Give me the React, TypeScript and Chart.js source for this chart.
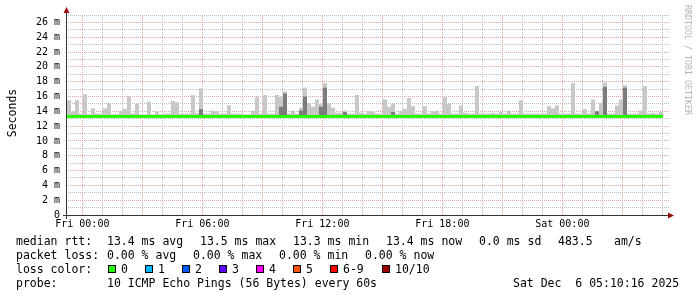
import React, { useEffect, useRef } from 'react';
import { Chart, registerables } from 'chart.js';

Chart.register(...registerables);

const MONO = "'DejaVu Sans Mono', monospace";

// time axis: minutes relative to Fri 00:00
const axisStartMin = -46;
const axisEndMin = 1754;
const binMinutes = 12;

// upper edge of the light smoke per 12-minute bin (ms)
const smokeTop = [
  15.5, 14.0, 15.5, 13.7, 16.3, 13.6, 14.4, 13.7, 13.7, 14.4,
  15.1, 13.6, 13.6, 14.0, 14.3, 16.0, 13.7, 15.0, 13.6, 13.6,
  15.3, 13.6, 14.0, 13.6, 13.7, 13.7, 15.4, 15.2, 13.7, 13.7,
  13.7, 16.2, 13.8, 17.1, 13.7, 13.7, 14.1, 14.0, 13.7, 13.7,
  14.8, 13.7, 13.7, 13.7, 13.6, 13.6, 14.1, 15.9, 13.7, 16.2,
  13.7, 13.7, 16.2, 15.9, 16.7, 13.7, 14.1, 13.7, 14.5, 17.2,
  15.1, 14.6, 15.6, 15.0, 17.8, 15.1, 14.5, 13.8, 13.8, 14.1,
  13.7, 13.7, 16.2, 13.8, 13.7, 14.0, 14.0, 13.7, 13.7, 15.6,
  14.6, 15.0, 13.7, 14.0, 14.3, 15.8, 14.7, 13.7, 13.7, 14.7,
  13.7, 14.0, 14.1, 13.7, 15.9, 15.0, 13.7, 13.7, 14.8, 13.8,
  13.7, 13.7, 17.4, 13.7, 13.7, 13.7, 13.8, 13.7, 13.9, 13.7,
  14.1, 13.7, 13.7, 15.5, 13.7, 13.7, 13.7, 13.7, 13.7, 13.7,
  14.7, 14.4, 14.8, 13.7, 13.7, 13.7, 17.8, 13.7, 13.7, 14.3,
  13.7, 15.6, 14.0, 15.1, 17.9, 13.7, 13.7, 14.8, 15.6, 17.5,
  13.7, 13.7, 13.7, 14.1, 17.4, 13.7, 13.8, 13.7, 13.9,
];

// bins with dense (dark) smoke and its upper edge (ms)
const darkBins = [33, 53, 54, 58, 59, 63, 64, 69, 81, 132, 134, 139];
const darkTops = [14.3, 14.6, 16.4, 14.1, 16.0, 14.6, 17.2, 13.9, 13.9, 14.0, 17.3, 17.2];
const smokeFloor = 13.2;

// median rtt per bin (ms)
const medianRtt = [
  13.3, 13.3, 13.3, 13.3, 13.3, 13.3, 13.3, 13.3, 13.3, 13.3,
  13.3, 13.3, 13.3, 13.3, 13.3, 13.3, 13.3, 13.3, 13.3, 13.3,
  13.3, 13.3, 13.3, 13.3, 13.3, 13.3, 13.3, 13.3, 13.3, 13.3,
  13.3, 13.3, 13.3, 13.3, 13.3, 13.3, 13.3, 13.3, 13.3, 13.3,
  13.3, 13.3, 13.3, 13.3, 13.3, 13.3, 13.3, 13.3, 13.3, 13.3,
  13.3, 13.3, 13.3, 13.3, 13.3, 13.3, 13.3, 13.3, 13.3, 13.3,
  13.3, 13.3, 13.3, 13.3, 13.3, 13.3, 13.3, 13.3, 13.3, 13.3,
  13.3, 13.3, 13.3, 13.3, 13.3, 13.3, 13.3, 13.3, 13.3, 13.3,
  13.3, 13.3, 13.3, 13.3, 13.3, 13.3, 13.3, 13.3, 13.3, 13.3,
  13.3, 13.3, 13.3, 13.3, 13.3, 13.3, 13.3, 13.3, 13.3, 13.3,
  13.3, 13.3, 13.3, 13.3, 13.3, 13.3, 13.3, 13.3, 13.3, 13.3,
  13.3, 13.3, 13.3, 13.3, 13.3, 13.3, 13.3, 13.3, 13.3, 13.3,
  13.3, 13.3, 13.3, 13.3, 13.3, 13.3, 13.3, 13.3, 13.3, 13.3,
  13.3, 13.3, 13.3, 13.3, 13.3, 13.3, 13.3, 13.3, 13.3, 13.3,
  13.3, 13.3, 13.3, 13.3, 13.3, 13.3, 13.3, 13.3, 13.3,
];

const yTickValues = [0, 2, 4, 6, 8, 10, 12, 14, 16, 18, 20, 22, 24, 26];
const yTickLabels = ['0', '2 m', '4 m', '6 m', '8 m', '10 m', '12 m', '14 m', '16 m', '18 m', '20 m', '22 m', '24 m', '26 m'];
const xTickMinutes = [0, 360, 720, 1080, 1440];
const xTickLabels = ['Fri 00:00', 'Fri 06:00', 'Fri 12:00', 'Fri 18:00', 'Sat 00:00'];

const yAxisTitle = 'Seconds';
const watermark = 'RRDTOOL / TOBI OETIKER';
const rttHeader = 'median rtt:';
const rttStats = ['13.4 ms avg', '13.5 ms max', '13.3 ms min', '13.4 ms now', '0.0 ms sd', '483.5', 'am/s'];
const lossHeader = 'packet loss:';
const lossStats = ['0.00 % avg', '0.00 % max', '0.00 % min', '0.00 % now'];
const colorHeader = 'loss color:';
const lossColorLabels = ['0', '1', '2', '3', '4', '5', '6-9', '10/10'];
const lossColors = ['#26ff00', '#00b8ff', '#0059ff', '#5e00ff', '#ff00f6', '#ff5500', '#ff0000', '#a00000'];
const probeHeader = 'probe:';
const probeText = '10 ICMP Echo Pings (56 Bytes) every 60s';
const dateText = 'Sat Dec  6 05:10:16 2025';

const RED_GRID = '#eba2a2';
const GRAY_GRID = '#bdbdbd';

// dotted grid drawn from the chart's own scales
const dottedGridPlugin = {
  id: 'dottedGrid',
  beforeDatasetsDraw(chart: any) {
    const ctx = chart.ctx as CanvasRenderingContext2D;
    const area = chart.chartArea;
    const xs = chart.scales.x;
    const ys = chart.scales.y;
    ctx.save();
    ys.ticks.forEach((t: any) => {
      const v = Number(t.value);
      if (v === 0) return;
      const row = Math.round(ys.getPixelForValue(v) - 0.5);
      ctx.fillStyle = v % 2 === 0 ? RED_GRID : GRAY_GRID;
      for (let x = area.left + 1; x < area.right + 2; x += 2) ctx.fillRect(x, row, 1, 1);
    });
    xs.ticks.forEach((t: any) => {
      const v = Number(t.value);
      const col = Math.round(xs.getPixelForValue(v) - 0.5);
      ctx.fillStyle = v % 180 === 0 ? RED_GRID : GRAY_GRID;
      for (let y = area.bottom - 1; y >= area.top; y -= 2) ctx.fillRect(col, y, 1, 1);
    });
    ctx.restore();
  },
};

const overlayPlugin = {
  id: 'smokeOverlay',
  afterDraw(chart: any) {
    const ctx = chart.ctx as CanvasRenderingContext2D;
    const area = chart.chartArea;
    ctx.save();
    // axes
    ctx.strokeStyle = '#333333';
    ctx.lineWidth = 1;
    ctx.beginPath();
    ctx.moveTo(area.left - 0.5, area.bottom + 4);
    ctx.lineTo(area.left - 0.5, 12);
    ctx.moveTo(area.left - 4, area.bottom + 0.5);
    ctx.lineTo(area.right + 2, area.bottom + 0.5);
    ctx.stroke();
    ctx.fillStyle = '#9a1010';
    ctx.beginPath();
    ctx.moveTo(area.left - 3.5, 13);
    ctx.lineTo(area.left + 2.5, 13);
    ctx.lineTo(area.left - 0.5, 7);
    ctx.closePath();
    ctx.fill();
    ctx.beginPath();
    ctx.moveTo(area.right + 1, area.bottom - 2.5);
    ctx.lineTo(area.right + 1, area.bottom + 3.5);
    ctx.lineTo(area.right + 7, area.bottom + 0.5);
    ctx.closePath();
    ctx.fill();

    // y axis title
    ctx.fillStyle = '#000000';
    ctx.font = `11.5px ${MONO}`;
    ctx.save();
    ctx.translate(15.5, 113);
    ctx.rotate(-Math.PI / 2);
    ctx.textAlign = 'center';
    ctx.textBaseline = 'alphabetic';
    ctx.fillText(yAxisTitle, 0, 0);
    ctx.restore();

    // watermark
    ctx.save();
    ctx.fillStyle = '#b4b4b4';
    ctx.font = `8.3px ${MONO}`;
    ctx.translate(685, 5);
    ctx.rotate(Math.PI / 2);
    ctx.textAlign = 'left';
    ctx.textBaseline = 'alphabetic';
    ctx.fillText(watermark, 0, 0);
    ctx.restore();

    // legend
    ctx.fillStyle = '#000000';
    ctx.font = `11.5px ${MONO}`;
    ctx.textAlign = 'left';
    ctx.textBaseline = 'alphabetic';
    const rows = [245, 259, 273, 287];
    const rttX = [107, 200, 293, 386, 479, 558, 614];
    const lossX = [107, 193, 279, 365];
    const swatchX = [108, 145, 182, 219, 256, 293, 330, 382];
    ctx.fillText(rttHeader, 16, rows[0]);
    rttStats.forEach((t, i) => ctx.fillText(t, rttX[i], rows[0]));
    ctx.fillText(lossHeader, 16, rows[1]);
    lossStats.forEach((t, i) => ctx.fillText(t, lossX[i], rows[1]));
    ctx.fillText(colorHeader, 16, rows[2]);
    lossColorLabels.forEach((t, i) => {
      const x = swatchX[i];
      ctx.fillStyle = lossColors[i];
      ctx.fillRect(x, 265, 8, 8);
      ctx.strokeStyle = '#000000';
      ctx.strokeRect(x + 0.5, 265.5, 7, 7);
      ctx.fillStyle = '#000000';
      ctx.fillText(t, x + 13, rows[2]);
    });
    ctx.fillText(probeHeader, 16, rows[3]);
    ctx.fillText(probeText, 107, rows[3]);
    ctx.fillText(dateText, 513, rows[3]);
    ctx.restore();
  },
};

export default function App() {
  const ref = useRef<HTMLCanvasElement>(null);

  useEffect(() => {
    document.body.style.margin = '0';
    const binCenter = (i: number) => axisStartMin + binMinutes * i + binMinutes / 2;
    const lightData = smokeTop.map((top, i) => ({ x: binCenter(i), y: [smokeFloor, top] }));
    const darkData = darkBins.map((b, k) => ({ x: binCenter(b), y: [smokeFloor, darkTops[k]] }));
    const lineData = medianRtt.map((v, i) => ({ x: axisStartMin + binMinutes * i, y: v }));
    lineData.push({ x: axisStartMin + binMinutes * medianRtt.length, y: medianRtt[medianRtt.length - 1] });

    const chart = new Chart(ref.current as HTMLCanvasElement, {
      type: 'bar',
      data: {
        datasets: [
          {
            type: 'line',
            data: lineData as any,
            borderColor: '#26ff00',
            borderWidth: 3,
            pointRadius: 0,
            stepped: 'after',
            order: 0,
          } as any,
          {
            data: darkData as any,
            backgroundColor: '#7c7c7c',
            borderWidth: 0,
            barThickness: 4,
            grouped: false,
            inflateAmount: 0,
            order: 1,
          } as any,
          {
            data: lightData as any,
            backgroundColor: '#c8c8c8',
            borderWidth: 0,
            barThickness: 4,
            grouped: false,
            inflateAmount: 0,
            order: 2,
          } as any,
        ],
      },
      options: {
        animation: false,
        responsive: false,
        devicePixelRatio: 1,
        events: [],
        layout: { padding: { left: 0, right: 30, top: 15, bottom: 0 } },
        plugins: { legend: { display: false }, tooltip: { enabled: false } },
        scales: {
          x: {
            type: 'linear',
            min: axisStartMin,
            max: axisEndMin,
            offset: false,
            afterBuildTicks: (scale: any) => {
              const t = [];
              for (let m = 0; m < axisEndMin; m += 60) t.push({ value: m });
              scale.ticks = t;
            },
            afterFit: (scale: any) => {
              scale.height = 82;
            },
            ticks: {
              autoSkip: false,
              maxRotation: 0,
              padding: 3,
              color: '#000000',
              font: { family: MONO, size: 10 },
              callback: (v: any) => {
                const idx = xTickMinutes.indexOf(Number(v));
                return idx >= 0 ? xTickLabels[idx] : '';
              },
            },
            grid: { display: false, drawTicks: false, offset: false },
            border: { display: false },
          },
          y: {
            type: 'linear',
            min: 0,
            max: 27,
            afterBuildTicks: (scale: any) => {
              const t = [];
              for (let v = 0; v <= 27; v += 1) t.push({ value: v });
              scale.ticks = t;
            },
            afterFit: (scale: any) => {
              scale.width = 67;
            },
            ticks: {
              autoSkip: false,
              padding: 7,
              color: '#000000',
              font: { family: MONO, size: 10 },
              callback: (v: any) => {
                const idx = yTickValues.indexOf(Number(v));
                return idx >= 0 ? yTickLabels[idx] : '';
              },
            },
            grid: { display: false, drawTicks: false },
            border: { display: false },
          },
        },
      } as any,
      plugins: [dottedGridPlugin, overlayPlugin],
    });
    return () => chart.destroy();
  }, []);

  return (
    <div style={{ width: 697, height: 297, background: '#ffffff' }}>
      <canvas ref={ref} width={697} height={297} style={{ display: 'block' }} />
    </div>
  );
}
